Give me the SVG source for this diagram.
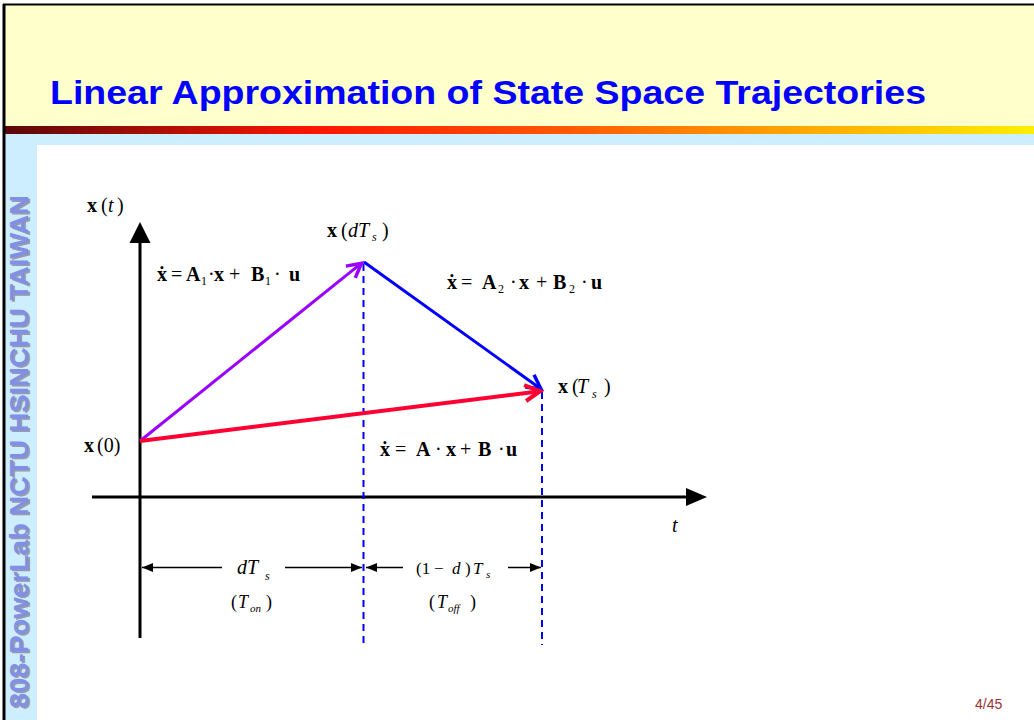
<svg xmlns="http://www.w3.org/2000/svg" width="1034" height="720" viewBox="0 0 1034 720">
  <defs>
    <linearGradient id="bar" x1="0" y1="0" x2="1" y2="0">
      <stop offset="0" stop-color="#5a0808"/>
      <stop offset="0.3" stop-color="#ff1500"/>
      <stop offset="0.55" stop-color="#ff5a00"/>
      <stop offset="0.75" stop-color="#ffa000"/>
      <stop offset="1" stop-color="#ffee00"/>
    </linearGradient>
    <marker id="chevPurple" markerUnits="userSpaceOnUse" viewBox="-18 -10 20 20" markerWidth="20" markerHeight="20" refX="0" refY="0" orient="auto" overflow="visible">
      <path d="M-14,-7.5 L0,0 L-14,7.5" fill="none" stroke="#9900ff" stroke-width="3.5"/>
    </marker>
    <marker id="chevBlue" markerUnits="userSpaceOnUse" viewBox="-18 -10 20 20" markerWidth="20" markerHeight="20" refX="0" refY="0" orient="auto" overflow="visible">
      <path d="M-14,-7.5 L0,0 L-14,7.5" fill="none" stroke="#0000ff" stroke-width="3.5"/>
    </marker>
    <marker id="chevRed" markerUnits="userSpaceOnUse" viewBox="-18 -10 20 20" markerWidth="20" markerHeight="20" refX="0" refY="0" orient="auto" overflow="visible">
      <path d="M-15,-8 L0,0 L-15,8" fill="none" stroke="#ff0033" stroke-width="4"/>
    </marker>
    <marker id="dimHead" markerUnits="userSpaceOnUse" viewBox="-12 -5 12 10" markerWidth="12" markerHeight="10" refX="0" refY="0" orient="auto-start-reverse" overflow="visible">
      <path d="M0,0 L-11,-4.5 L-11,4.5 Z" fill="#000"/>
    </marker>
    <style>
      .m { font-family: "Liberation Serif", "Times New Roman", serif; font-size: 20px; fill: #000; }
      .b { font-weight: bold; }
      .i { font-style: italic; }
      .sub { font-size: 12px; }
      .dim { font-family: "Liberation Serif", "Times New Roman", serif; fill: #000; }
      .dash { stroke: #0000ff; stroke-width: 2; stroke-dasharray: 7 5; fill: none; }
      .dimline { stroke: #000; stroke-width: 1.5; fill: none; }
    </style>
  </defs>

  <!-- page background -->
  <rect x="0" y="0" width="1034" height="720" fill="#ffffff"/>
  <rect x="5" y="5" width="1029" height="121" fill="#ffffcc"/>
  <rect x="5" y="126" width="1029" height="8" fill="url(#bar)"/>
  <rect x="5" y="134" width="1029" height="586" fill="#cceeff"/>
  <rect x="37" y="145" width="997" height="575" fill="#ffffff"/>
  <line x1="3" y1="4.5" x2="1034" y2="4.5" stroke="#000" stroke-width="2"/>
  <line x1="4" y1="4" x2="4" y2="720" stroke="#000" stroke-width="3"/>

  <!-- title -->
  <text x="50" y="104" font-family="Liberation Sans, Arial, sans-serif" font-weight="bold" font-size="33" fill="#0000ff" textLength="876" lengthAdjust="spacingAndGlyphs">Linear Approximation of State Space Trajectories</text>

  <!-- sidebar -->
  <g id="sidebar">
    <text transform="translate(29.5,709.5) rotate(-90)" font-family="Liberation Sans, Arial, sans-serif" font-weight="bold" font-size="25" fill="#9a9aaa" textLength="513" lengthAdjust="spacingAndGlyphs">808-PowerLab NCTU HSINCHU TAIWAN</text>
    <text transform="translate(28,708) rotate(-90)" font-family="Liberation Sans, Arial, sans-serif" font-weight="bold" font-size="25" fill="#7f90e6" textLength="513" lengthAdjust="spacingAndGlyphs">808-PowerLab NCTU HSINCHU TAIWAN</text>
  </g>

  <!-- page number -->
  <text x="975" y="709" font-family="Liberation Sans, Arial, sans-serif" font-size="14" fill="#993333">4/45</text>

  <!-- axes -->
  <g id="axes">
    <line x1="140" y1="638" x2="140" y2="240" stroke="#000" stroke-width="3"/>
    <polygon points="140,222 129.5,243 150.5,243" fill="#000"/>
    <line x1="92" y1="497" x2="690" y2="497" stroke="#000" stroke-width="3"/>
    <polygon points="707,497 686,488 686,506" fill="#000"/>
  </g>

  <!-- connectors -->
  <g id="connectors">
    <line class="dash" x1="363.5" y1="264" x2="363.5" y2="645"/>
    <line class="dash" x1="542" y1="392" x2="542" y2="645"/>
    <line x1="140" y1="441" x2="361.5" y2="263.2" stroke="#9900ff" stroke-width="3" marker-end="url(#chevPurple)"/>
    <line x1="364" y1="262" x2="541" y2="389" stroke="#0000ff" stroke-width="3" marker-end="url(#chevBlue)"/>
    <line x1="140" y1="441" x2="540" y2="391.2" stroke="#ff0033" stroke-width="4" marker-end="url(#chevRed)"/>
    <line class="dimline" x1="142" y1="567.5" x2="222" y2="567.5" marker-start="url(#dimHead)"/>
    <line class="dimline" x1="285" y1="567.5" x2="362" y2="567.5" marker-end="url(#dimHead)"/>
    <line class="dimline" x1="366" y1="567.5" x2="403" y2="567.5" marker-start="url(#dimHead)"/>
    <line class="dimline" x1="508" y1="567.5" x2="541" y2="567.5" marker-end="url(#dimHead)"/>
  </g>

  <!-- labels -->
  <g id="label-xt">
    <text class="m" y="212"><tspan class="b" x="87">x</tspan><tspan x="101">(</tspan><tspan class="i" x="108">t</tspan><tspan x="117">)</tspan></text>
  </g>
  <g id="label-xdTs">
    <text class="m" y="237"><tspan class="b" x="327">x</tspan><tspan x="341">(</tspan><tspan class="i" x="348">dT</tspan><tspan class="i sub" x="372" y="241">s</tspan><tspan x="382" y="237">)</tspan></text>
  </g>
  <g id="label-xTs">
    <text class="m" y="393"><tspan class="b" x="558">x</tspan><tspan x="572">(</tspan><tspan class="i" x="577">T</tspan><tspan class="i sub" x="592" y="398">s</tspan><tspan x="604" y="393">)</tspan></text>
  </g>
  <g id="label-x0">
    <text class="m" y="452"><tspan class="b" x="84">x</tspan><tspan x="97">(0)</tspan></text>
  </g>
  <g id="label-t">
    <text class="m i" x="672" y="532">t</text>
  </g>

  <g id="eq1">
    <text class="m" y="281"><tspan class="b" x="157">ẋ</tspan><tspan x="171">=</tspan><tspan class="b" x="186">A</tspan><tspan class="sub" x="201" y="285">1</tspan><tspan x="208" y="281">·</tspan><tspan class="b" x="214">x</tspan><tspan x="229">+</tspan><tspan class="b" x="251">B</tspan><tspan class="sub" x="265" y="285">1</tspan><tspan x="274" y="281">·</tspan><tspan class="b" x="289">u</tspan></text>
  </g>
  <g id="eq2">
    <text class="m" y="289"><tspan class="b" x="447">ẋ</tspan><tspan x="461">=</tspan><tspan class="b" x="482">A</tspan><tspan class="sub" x="498" y="293">2</tspan><tspan x="510" y="289">·</tspan><tspan class="b" x="519">x</tspan><tspan x="536">+</tspan><tspan class="b" x="553">B</tspan><tspan class="sub" x="569" y="293">2</tspan><tspan x="581" y="289">·</tspan><tspan class="b" x="591">u</tspan></text>
  </g>
  <g id="eq3">
    <text class="m" y="456"><tspan class="b" x="380">ẋ</tspan><tspan x="395">=</tspan><tspan class="b" x="416">A</tspan><tspan x="435">·</tspan><tspan class="b" x="446">x</tspan><tspan x="460">+</tspan><tspan class="b" x="478">B</tspan><tspan x="498">·</tspan><tspan class="b" x="506">u</tspan></text>
  </g>

  <g id="dim-on">
    <text class="dim" font-size="20" y="574"><tspan class="i" x="237">dT</tspan><tspan class="i" font-size="12" x="265" y="580">s</tspan></text>
    <text class="dim" font-size="18" y="608"><tspan x="231">(</tspan><tspan class="i" x="238">T</tspan><tspan class="i" font-size="11" x="250" y="612">on</tspan><tspan x="266" y="608">)</tspan></text>
  </g>
  <g id="dim-off">
    <text class="dim" font-size="17" y="574"><tspan x="416">(1</tspan><tspan x="434">−</tspan><tspan class="i" x="452">d</tspan><tspan x="465">)</tspan><tspan class="i" x="473">T</tspan><tspan class="i" font-size="11" x="486" y="578">s</tspan></text>
    <text class="dim" font-size="18" y="608"><tspan x="429">(</tspan><tspan class="i" x="437">T</tspan><tspan class="i" font-size="11" x="448" y="612">off</tspan><tspan x="470" y="608">)</tspan></text>
  </g>
</svg>
